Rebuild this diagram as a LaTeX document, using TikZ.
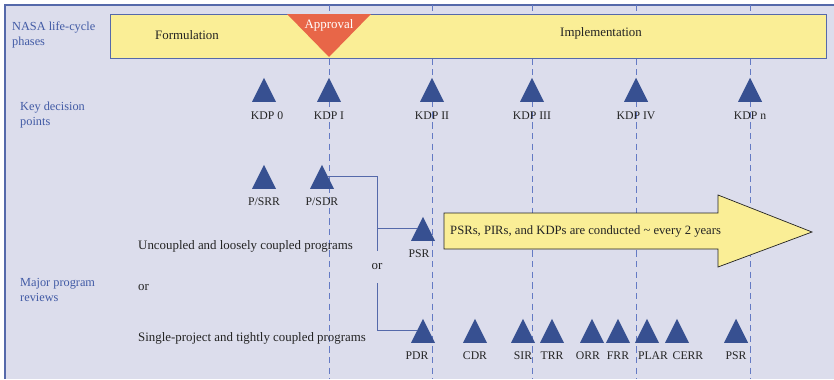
\documentclass[tikz,border=0pt]{standalone}
\usepackage{fontspec}
\setmainfont{Liberation Serif}
\usepackage{tikz}
\usetikzlibrary{shapes,arrows,positioning,calc}
\definecolor{panelbg}{RGB}{220,221,236}
\definecolor{frameblue}{RGB}{85,105,170}
\definecolor{dashblue}{RGB}{100,122,196}
\definecolor{kdpblue}{RGB}{55,80,145}
\definecolor{phaseyellow}{RGB}{250,238,150}
\definecolor{approvalred}{RGB}{232,102,72}
\definecolor{labelblue}{RGB}{65,90,165}
\definecolor{darktext}{RGB}{35,35,35}

\begin{document}
\begin{tikzpicture}[x=0.3mm, y=-0.3mm, font=\fontsize{11}{12}\selectfont]
    \tikzstyle{review} = [isosceles triangle, shape border rotate=90, isosceles triangle stretches, fill=kdpblue, minimum width=7.2mm, minimum height=7.2mm, inner sep=0pt, anchor=lower side]
    \tikzstyle{tag} = [text=darktext, inner sep=1pt, font=\fontsize{10}{12}\selectfont]
    \tikzstyle{rowlabel} = [text=labelblue, align=left, anchor=west, inner sep=0pt, font=\fontsize{10.5}{12.5}\selectfont]
    \tikzstyle{track} = [text=darktext, anchor=west, inner sep=0pt]
    \tikzstyle{milestone} = [dashblue, line width=0.8pt, dash pattern=on 1.9mm off 1.3mm]
    \tikzstyle{link} = [frameblue, line width=0.8pt]

    % Panel and milestone lines
    \useasboundingbox (0,0) rectangle (834,379);
    \fill[panelbg] (5,5) rectangle (834,379);
    \draw[frameblue, line width=1pt] (5,379) -- (5,5) -- (834,5);
    \foreach \x in {329,432,532,636,750}
        \draw[milestone] (\x,5) -- (\x,379);

    % Life-cycle phases
    \draw[frameblue, fill=phaseyellow, line width=0.8pt] (110,14) rectangle (826,58);
    \fill[approvalred] (287,14) -- (371,14) -- (329,57) -- cycle;
    \node[text=white] (approval) at (329,25) {Approval};
    \node[text=darktext] (formulation) at (187,35) {Formulation};
    \node[text=darktext] (implementation) at (601,33) {Implementation};
    \node[rowlabel] (phases) at (12,35) {NASA life-cycle\\phases};

    % Key decision points
    \node[rowlabel] (kdprow) at (20,115) {Key decision\\points};
    \node[review] (kdp0) at (264,102) {};
    \node[tag, below=2.4mm of kdp0, xshift=0.9mm] (kdp0tag) {KDP 0};
    \node[review] (kdp1) at (329,102) {};
    \node[tag, below=2.4mm of kdp1] (kdp1tag) {KDP I};
    \node[review] (kdp2) at (432,102) {};
    \node[tag, below=2.4mm of kdp2] (kdp2tag) {KDP II};
    \node[review] (kdp3) at (532,102) {};
    \node[tag, below=2.4mm of kdp3] (kdp3tag) {KDP III};
    \node[review] (kdp4) at (636,102) {};
    \node[tag, below=2.4mm of kdp4] (kdp4tag) {KDP IV};
    \node[review] (kdpn) at (750,102) {};
    \node[tag, below=2.4mm of kdpn] (kdpntag) {KDP n};

    % Major program reviews
    \node[rowlabel] (reviewrow) at (20,290) {Major program\\reviews};
    \node[track] (uncoupled) at (138,246) {Uncoupled and loosely coupled programs};
    \node[track] (either) at (138,288) {or};
    \node[track] (single) at (138,338) {Single-project and tightly coupled programs};

    \node[review] (psrr) at (264,189) {};
    \node[tag, below=2.2mm of psrr] (psrrtag) {P/SRR};
    \node[review] (psdr) at (322,189) {};
    \node[tag, below=2.2mm of psdr] (psdrtag) {P/SDR};

    \node[review] (psr) at (423,241) {};
    \node[tag, below=2.2mm of psr, xshift=-1.2mm] (psrtag) {PSR};

    \node[review] (pdr) at (423,343) {};
    \node[tag, below=2.2mm of pdr, xshift=-1.8mm] (pdrtag) {PDR};
    \node[review] (cdr) at (475,343) {};
    \node[tag, below=2.2mm of cdr] (cdrtag) {CDR};
    \node[review] (sir) at (523,343) {};
    \node[tag, below=2.2mm of sir] (sirtag) {SIR};
    \node[review] (trr) at (552,343) {};
    \node[tag, below=2.2mm of trr] (trrtag) {TRR};
    \node[review] (orr) at (592,343) {};
    \node[tag, below=2.2mm of orr, xshift=-1.2mm] (orrtag) {ORR};
    \node[review] (frr) at (618,343) {};
    \node[tag, below=2.2mm of frr] (frrtag) {FRR};
    \node[review] (plar) at (647,343) {};
    \node[tag, below=2.2mm of plar, xshift=1.8mm] (plartag) {PLAR};
    \node[review] (cerr) at (677,343) {};
    \node[tag, below=2.2mm of cerr, xshift=3.3mm] (cerrtag) {CERR};
    \node[review] (psrn) at (736,343) {};
    \node[tag, below=2.2mm of psrn] (psrntag) {PSR};

    % Branch to PSR or PDR
    \node[text=darktext, minimum height=9.6mm, inner sep=0pt] (ornode) at (377,267) {or};
    \draw[link] (psdr.right side) -| (ornode.north);
    \draw[link] (ornode.north |- psr.left side) -- (psr.left side);
    \draw[link] (ornode.south) |- (pdr.left side);

    % Review cadence
    \draw[darktext, fill=phaseyellow, line width=0.6pt] (444,213) -- (718,213) -- (718,195) -- (812,232) -- (718,267) -- (718,249) -- (444,249) -- cycle;
    \node[track, font=\fontsize{10.8}{12}\selectfont] (cadence) at (450,231) {PSRs, PIRs, and KDPs are conducted \textasciitilde{} every 2 years};
\end{tikzpicture}
\end{document}
